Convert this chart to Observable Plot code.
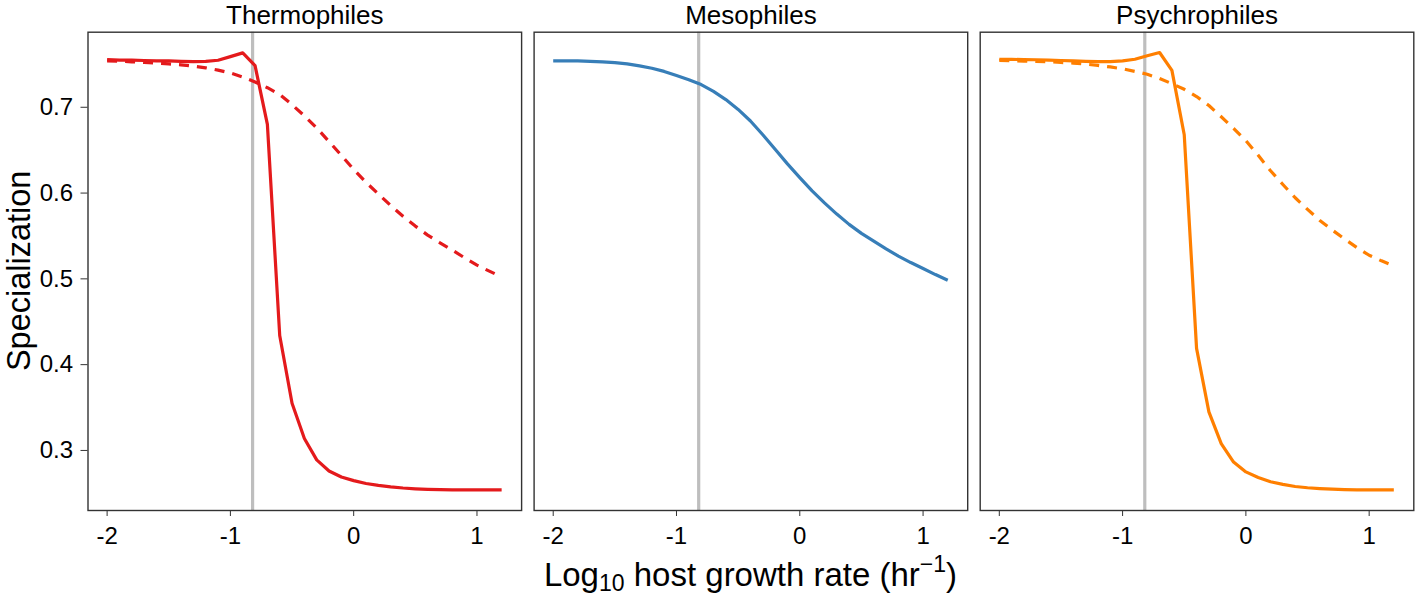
<!DOCTYPE html>
<html><head><meta charset="utf-8">
<script src="https://cdn.jsdelivr.net/npm/d3@7"></script>
<script src="https://cdn.jsdelivr.net/npm/@observablehq/plot@0.6"></script>
<style>
body{margin:0;background:#fff;font-family:"Liberation Sans",Arial,sans-serif;}
#wrap{position:relative;width:1416px;height:597px;overflow:hidden;background:#fff;}
#chart svg{display:block;}
#xtitle{position:absolute;left:87.5px;width:1326px;top:556px;height:41px;text-align:center;font-size:33px;line-height:38px;color:#000;white-space:nowrap;}
#xtitle .sub{font-size:23px;position:relative;top:5px;}
#xtitle .sup{font-size:23px;position:relative;top:-14px;}
</style></head><body>
<div id="wrap">
<div id="chart"></div>
<div id="xtitle">Log<span class="sub">10</span> host growth rate (hr<span class="sup">−1</span>)</div>
</div>
<script>
// ---- data ----
const groups = ["Thermophiles", "Mesophiles", "Psychrophiles"];
const groupColors = ["#E41A1C", "#377EB8", "#FF7F00"];
const hostRate = -0.82;
const xTicks = [-2, -1, 0, 1];
const yTicks = [0.3, 0.4, 0.5, 0.6, 0.7];
const yTitle = "Specialization";

const xs = [-2.0,-1.9,-1.8,-1.7,-1.6,-1.5,-1.4,-1.3,-1.2,-1.1,-1.0,-0.9,-0.8,-0.7,-0.6,-0.5,-0.4,-0.3,-0.2,-0.1,0.0,0.1,0.2,0.3,0.4,0.5,0.6,0.7,0.8,0.9,1.0,1.1,1.2];

const thermoSolid = [0.7555,0.7550,0.7550,0.7545,0.7540,0.7540,0.7535,0.7533,0.7535,0.7548,0.7590,0.7634,0.7485,0.6800,0.4340,0.3550,0.3140,0.2890,0.2760,0.2690,0.2648,0.2615,0.2592,0.2575,0.2562,0.2553,0.2547,0.2543,0.2541,0.2540,0.2540,0.2540,0.2540];
const thermoDashed = [0.7540,0.7536,0.7530,0.7523,0.7515,0.7506,0.7495,0.7480,0.7460,0.7433,0.7400,0.7352,0.7295,0.7228,0.7150,0.7030,0.6900,0.6760,0.6600,0.6440,0.6275,0.6125,0.5990,0.5855,0.5730,0.5615,0.5510,0.5420,0.5335,0.5245,0.5160,0.5090,0.5023];
const mesoSolid = [0.7541,0.7541,0.7540,0.7536,0.7530,0.7520,0.7505,0.7482,0.7455,0.7418,0.7370,0.7320,0.7265,0.7185,0.7090,0.6975,0.6840,0.6680,0.6510,0.6340,0.6180,0.6025,0.5885,0.5755,0.5635,0.5530,0.5440,0.5350,0.5265,0.5190,0.5120,0.5050,0.4984];
const psychroSolid = [0.7560,0.7558,0.7556,0.7554,0.7550,0.7545,0.7540,0.7535,0.7533,0.7533,0.7540,0.7560,0.7600,0.7638,0.7430,0.6680,0.4190,0.3450,0.3080,0.2865,0.2750,0.2685,0.2635,0.2605,0.2580,0.2565,0.2555,0.2548,0.2543,0.2541,0.2540,0.2540,0.2540];
const psychroDashed = [0.7545,0.7542,0.7538,0.7534,0.7530,0.7523,0.7515,0.7503,0.7488,0.7470,0.7448,0.7418,0.7385,0.7335,0.7275,0.7210,0.7125,0.7020,0.6890,0.6755,0.6610,0.6440,0.6260,0.6100,0.5945,0.5810,0.5680,0.5570,0.5465,0.5365,0.5275,0.5210,0.5152];

// ---- tables built from the arrays ----
function rowsOf(group, ys) { return xs.map((x, i) => ({group, x, y: ys[i]})); }
const solidRows = [].concat(
  rowsOf("Thermophiles", thermoSolid),
  rowsOf("Mesophiles", mesoSolid),
  rowsOf("Psychrophiles", psychroSolid)
);
const dashedRows = [].concat(
  rowsOf("Thermophiles", thermoDashed),
  rowsOf("Psychrophiles", psychroDashed)
);

const chart = Plot.plot({
  width: 1416,
  height: 552,
  marginLeft: 87.5,
  marginRight: 2.7,
  marginTop: 31.7,
  marginBottom: 42,
  style: {fontFamily: "'Liberation Sans', Arial, sans-serif", color: "#000", background: "#fff"},
  fx: {domain: groups, paddingInner: 0.028, paddingOuter: 0, round: false, label: null},
  x: {domain: [-2.155, 1.362], label: null},
  y: {domain: [0.230, 0.7875], label: null},
  color: {domain: groups, range: groupColors},
  marks: [
    Plot.ruleX([hostRate], {stroke: "#BEBEBE", strokeWidth: 3.2}),
    Plot.line(dashedRows, {x: "x", y: "y", fx: "group", z: "group", stroke: "group",
      strokeWidth: 3.2, strokeDasharray: "10,8", strokeLinecap: "butt", strokeLinejoin: "round"}),
    Plot.line(solidRows, {x: "x", y: "y", fx: "group", z: "group", stroke: "group",
      strokeWidth: 3.2, strokeLinecap: "butt", strokeLinejoin: "round"}),
    Plot.frame({stroke: "#333333", strokeWidth: 1.4}),
    Plot.axisX({ticks: xTicks, tickSize: 6, tickPadding: 10, fontSize: 24, stroke: "#333333",
      tickFormat: d => String(d), label: null}),
    Plot.axisY({ticks: yTicks, tickSize: 7, tickPadding: 8, fontSize: 24, stroke: "#333333",
      tickFormat: d => d.toFixed(1), label: null}),
    Plot.axisFx({anchor: "top", tickSize: 0, tickPadding: 8, fontSize: 26, label: null})
  ]
});

// y-axis title, rotated, centred on the panel height
d3.select(chart).append("text")
  .attr("transform", "translate(29.8," + ((31.7 + 510) / 2) + ") rotate(-90)")
  .attr("text-anchor", "middle")
  .attr("font-size", 32.5)
  .attr("fill", "#000")
  .text(yTitle);

document.getElementById("chart").appendChild(chart);
</script>
</body></html>
